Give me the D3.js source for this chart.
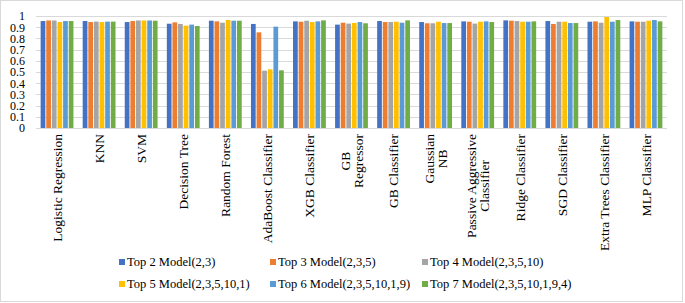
<!DOCTYPE html>
<html>
<head>
<meta charset="utf-8">
<script src="https://cdn.jsdelivr.net/npm/d3@7"></script>
<style>
  body { margin: 0; background: #fff; }
  text { font-family: "Liberation Serif", "Times New Roman", serif; fill: #000; }
</style>
</head>
<body>
<script>
const categories = [
  ["Logistic Regression"], ["KNN"], ["SVM"], ["Decision Tree"], ["Random Forest"],
  ["AdaBoost Classifier"], ["XGB Classifier"], ["GB", "Regressor"], ["GB Classifier"],
  ["Gaussian", "NB"], ["Passive Aggressive", "Classifier"], ["Ridge Classifier"],
  ["SGD Classifier"], ["Extra Trees Classifier"], ["MLP Classifier"]
];
const seriesNames = [
  "Top 2 Model(2,3)", "Top 3 Model(2,3,5)", "Top 4 Model(2,3,5,10)",
  "Top 5 Model(2,3,5,10,1)", "Top 6 Model(2,3,5,10,1,9)", "Top 7 Model(2,3,5,10,1,9,4)"
];
const top2 = [0.955, 0.955, 0.946, 0.931, 0.958, 0.929, 0.952, 0.923, 0.955, 0.946, 0.952, 0.961, 0.955, 0.949, 0.952];
const top3 = [0.960, 0.946, 0.955, 0.943, 0.952, 0.854, 0.949, 0.940, 0.946, 0.935, 0.949, 0.958, 0.929, 0.952, 0.949];
const top4 = [0.960, 0.950, 0.960, 0.929, 0.940, 0.512, 0.958, 0.932, 0.946, 0.935, 0.932, 0.955, 0.949, 0.940, 0.949];
const top5 = [0.946, 0.946, 0.960, 0.914, 0.964, 0.524, 0.946, 0.938, 0.949, 0.949, 0.949, 0.949, 0.949, 0.991, 0.958];
const top6 = [0.955, 0.950, 0.960, 0.923, 0.958, 0.905, 0.952, 0.946, 0.940, 0.937, 0.952, 0.949, 0.937, 0.949, 0.964];
const top7 = [0.955, 0.950, 0.958, 0.911, 0.958, 0.515, 0.961, 0.935, 0.961, 0.937, 0.946, 0.952, 0.937, 0.964, 0.952];
const yTicks = [0, 0.1, 0.2, 0.3, 0.4, 0.5, 0.6, 0.7, 0.8, 0.9, 1];

const allSeries = [top2, top3, top4, top5, top6, top7];
const colors = ["#4472C4", "#ED7D31", "#A5A5A5", "#FFC000", "#5B9BD5", "#70AD47"];

const W = 685, H = 303;
const plotLeft = 36, plotRight = 667, plotTop = 16, plotBottom = 128;

const svg = d3.select("body").append("svg")
  .attr("width", W)
  .attr("height", H);

// chart border
svg.append("rect")
  .attr("x", 0.5).attr("y", 0.5)
  .attr("width", W - 3).attr("height", H - 2)
  .attr("fill", "none")
  .attr("stroke", "#d9d9d9");

const x = d3.scaleBand()
  .domain(d3.range(categories.length))
  .range([plotLeft, plotRight])
  .paddingInner(0.22)
  .paddingOuter(0.11);

const xs = d3.scaleBand()
  .domain(d3.range(allSeries.length))
  .range([0, x.bandwidth()])
  .paddingInner(0.16);

const y = d3.scaleLinear()
  .domain([0, 1])
  .range([plotBottom, plotTop]);

// gridlines
svg.append("g")
  .selectAll("line")
  .data(yTicks)
  .join("line")
  .attr("x1", plotLeft).attr("x2", plotRight)
  .attr("y1", d => Math.round(y(d)) + 0.5)
  .attr("y2", d => Math.round(y(d)) + 0.5)
  .attr("stroke", "#d9d9d9");

// y axis labels
const yAxis = d3.axisLeft(y)
  .tickValues(yTicks)
  .tickSize(0)
  .tickPadding(0)
  .tickFormat(d => String(+d.toFixed(1)));

svg.append("g")
  .attr("transform", "translate(" + 25 + ",0)")
  .call(yAxis)
  .call(g => g.select(".domain").remove())
  .selectAll("text")
  .attr("font-size", 12)
  .style("font-family", "Liberation Serif");

// bars
const groups = svg.append("g")
  .selectAll("g")
  .data(categories)
  .join("g")
  .attr("transform", (d, i) => "translate(" + x(i) + ",0)");

groups.selectAll("rect")
  .data((d, i) => allSeries.map((s, j) => ({ s: j, v: s[i] })))
  .join("rect")
  .attr("x", d => xs(d.s))
  .attr("width", xs.bandwidth())
  .attr("y", d => y(d.v))
  .attr("height", d => y(0) - y(d.v))
  .attr("fill", d => colors[d.s]);

// category labels
const labelTop = plotBottom + 6;
const catFs = 13.5;
svg.append("g")
  .selectAll("g")
  .data(categories)
  .join("g")
  .each(function(lines, i) {
    const g = d3.select(this);
    const cx = x(i) + x.bandwidth() / 2;
    if (lines.length === 1) {
      g.append("text")
        .attr("transform", "translate(" + cx + "," + labelTop + ") rotate(-90)")
        .attr("text-anchor", "end")
        .attr("dy", "0.35em")
        .attr("font-size", catFs)
        .text(lines[0]);
    } else {
      const texts = lines.map(t => g.append("text")
        .attr("text-anchor", "middle")
        .attr("font-size", catFs)
        .text(t));
      const maxLen = d3.max(texts, t => t.node().getComputedTextLength());
      const cy = labelTop + maxLen / 2;
      texts.forEach((t, k) => {
        const off = (k - (lines.length - 1) / 2) * catFs * 0.95;
        t.attr("transform", "translate(" + (cx + off) + "," + cy + ") rotate(-90)")
          .attr("dy", "0.35em");
      });
    }
  });

// legend
const legendX = [122, 273, 425];
const legendY = [262, 284];
const legend = svg.append("g")
  .selectAll("g")
  .data(seriesNames)
  .join("g")
  .attr("transform", (d, i) => "translate(" + legendX[i % 3] + "," + legendY[Math.floor(i / 3)] + ")");

legend.append("rect")
  .attr("x", -3).attr("y", -3)
  .attr("width", 6).attr("height", 6)
  .attr("fill", (d, i) => colors[i]);

legend.append("text")
  .attr("x", 5)
  .attr("dy", "0.35em")
  .attr("font-size", 12.5)
  .text(d => d);
</script>
</body>
</html>
